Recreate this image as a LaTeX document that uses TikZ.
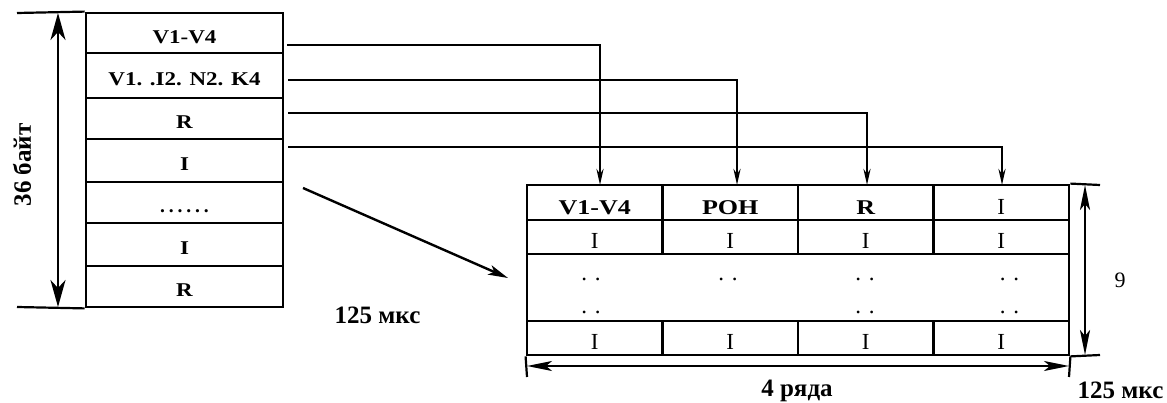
\documentclass[tikz,border=0pt]{standalone}
\usepackage{graphicx}
\usepackage{fontspec}
\setmainfont{Liberation Serif}
\usetikzlibrary{arrows.meta}
\newcommand\lsx[1]{\raisebox{-4pt}[\height][\depth]{\scalebox{1.18}[1]{#1}}}
\newcommand\rsx[1]{\raisebox{-5pt}[\height][\depth]{\scalebox{1.24}[1]{#1}}}
\newcommand\rix{\raisebox{-4pt}[\height][\depth]{I}}
\begin{document}
\begin{tikzpicture}[x=1pt,y=-1pt,
  lcell/.style={draw,line width=2.8pt,minimum width=197pt,inner sep=0pt,font=\fontsize{19.5}{20}\selectfont\bfseries},
  rcell/.style={draw,line width=2.8pt,minimum width=135.5pt,inner sep=0pt,font=\fontsize{21}{22}\selectfont\bfseries},
  icell/.style={rcell,font=\fontsize{23}{24}\selectfont},
  dotpair/.style={inner sep=0pt,font=\fontsize{23}{24}\selectfont},
  conn/.style={line width=2.4pt,-{Stealth[length=16pt,width=7pt]}},
  diag/.style={line width=2.4pt,-{Stealth[length=20pt,width=10pt,inset=5pt]}},
  dimL/.style={line width=2.4pt,{Stealth[length=27pt,width=15pt,inset=8pt]}-{Stealth[length=27pt,width=15pt,inset=8pt]}},
  dimR/.style={line width=2.2pt,{Stealth[length=25pt,width=10pt,inset=6pt]}-{Stealth[length=25pt,width=10pt,inset=6pt]}},
  ext/.style={line width=2.2pt},
  lbl/.style={inner sep=0pt,font=\fontsize{25}{26}\selectfont\bfseries}
]
\useasboundingbox (0,0) rectangle (1167,403);

% left table
\node[lcell,minimum height=40pt] (l1) at (184.5,33) {\lsx{V1-V4}};
\node[lcell,minimum height=45pt] (l2) at (184.5,75.5) {\lsx{V1. .I2. N2. K4}};
\node[lcell,minimum height=41pt] (l3) at (184.5,118.5) {\lsx{R}};
\node[lcell,minimum height=43pt] (l4) at (184.5,160.5) {\lsx{I}};
\node[lcell,minimum height=41pt] (l5) at (184.5,202.5) {\raisebox{-10pt}[0pt][0pt]{.\hspace{3.9pt}.\hspace{3.9pt}.\hspace{3.9pt}.\hspace{3.9pt}.\hspace{3.9pt}.}};
\node[lcell,minimum height=43pt] (l6) at (184.5,244.5) {\lsx{I}};
\node[lcell,minimum height=41pt] (l7) at (184.5,286.5) {\lsx{R}};

% left dimension
\coordinate (le1) at (17,13);
\coordinate (le2) at (17,307);
\coordinate (la) at (58,13);
\coordinate (lb) at (58,307);
\draw[ext] (le1) -- (l1.north west);
\draw[ext] (le2) -- (l7.south west);
\draw[dimL] (la) -- (lb);
\node[lbl,rotate=90] (bytes) at (22,165) {36 байт};

% right table
\node[draw,line width=2.8pt,minimum width=542pt,minimum height=67pt,inner sep=0pt] (mid) at (798,287.5) {};
\node[rcell,minimum height=35pt] (r11) at (594.75,202.5) {\rsx{V1-V4}};
\node[rcell,minimum height=35pt] (r12) at (730.25,202.5) {\rsx{POH}};
\node[rcell,minimum height=35pt] (r13) at (865.75,202.5) {\rsx{R}};
\node[icell,minimum height=35pt] (r14) at (1001.25,202.5) {\rix};
\node[icell,minimum height=34pt] (r21) at (594.75,237) {\rix};
\node[icell,minimum height=34pt] (r22) at (730.25,237) {\rix};
\node[icell,minimum height=34pt] (r23) at (865.75,237) {\rix};
\node[icell,minimum height=34pt] (r24) at (1001.25,237) {\rix};
\node[icell,minimum height=34pt] (r41) at (594.75,338) {\rix};
\node[icell,minimum height=34pt] (r42) at (730.25,338) {\rix};
\node[icell,minimum height=34pt] (r43) at (865.75,338) {\rix};
\node[icell,minimum height=34pt] (r44) at (1001.25,338) {\rix};

% dots
\node[dotpair] (d1a) at (591,280.5) {\raisebox{0pt}[0pt][0pt]{.\hspace{8pt}.}};
\node[dotpair] (d1b) at (591,313.5) {\raisebox{0pt}[0pt][0pt]{.\hspace{8pt}.}};
\node[dotpair] (d2a) at (728,280.5) {\raisebox{0pt}[0pt][0pt]{.\hspace{8pt}.}};
\node[dotpair] (d3a) at (865,280.5) {\raisebox{0pt}[0pt][0pt]{.\hspace{8pt}.}};
\node[dotpair] (d3b) at (865,313.5) {\raisebox{0pt}[0pt][0pt]{.\hspace{8pt}.}};
\node[dotpair] (d4a) at (1009.5,280.5) {\raisebox{0pt}[0pt][0pt]{.\hspace{8pt}.}};
\node[dotpair] (d4b) at (1009.5,313.5) {\raisebox{0pt}[0pt][0pt]{.\hspace{8pt}.}};

% connectors
\coordinate (s1) at (287,45);
\coordinate (s2) at (288,80);
\coordinate (s3) at (288,113);
\coordinate (s4) at (288,147);
\coordinate (t1) at (600,185);
\coordinate (t2) at (737,185);
\coordinate (t3) at (867,185);
\coordinate (t4) at (1002,185);
\draw[conn] (s1) -| (t1);
\draw[conn] (s2) -| (t2);
\draw[conn] (s3) -| (t3);
\draw[conn] (s4) -| (t4);

% diagonal arrow
\coordinate (dA) at (303,188);
\coordinate (dB) at (508,278);
\draw[diag] (dA) -- (dB);

% right vertical dimension
\coordinate (re1) at (1100,185);
\coordinate (re2) at (1100,355);
\coordinate (ra) at (1085,185);
\coordinate (rb) at (1085,355);
\draw[ext] (r14.north east) -- (re1);
\draw[ext] (r44.south east) -- (re2);
\draw[dimR] (ra) -- (rb);
\node[inner sep=0pt,font=\fontsize{22}{24}\selectfont] (nine) at (1120,280) {9};

% bottom dimension
\coordinate (be1) at (527,377);
\coordinate (be2) at (1069,377);
\coordinate (ba) at (527,366);
\coordinate (bb) at (1069,366);
\draw[ext] (r41.south west) -- (be1);
\draw[ext] (r44.south east) -- (be2);
\draw[dimR] (ba) -- (bb);

% labels
\node[lbl] (rows) at (797,391) {4 ряда};
\node[lbl] (t125a) at (377.5,315) {125 мкс};
\node[lbl] (t125b) at (1120.5,390) {125 мкс};
\end{tikzpicture}
\end{document}
